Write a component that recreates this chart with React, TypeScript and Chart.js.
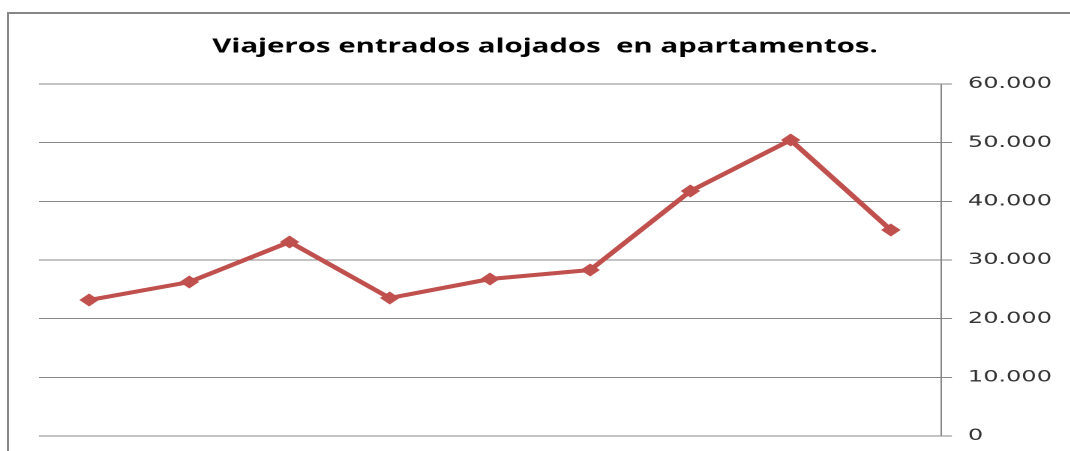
import React, { useEffect, useRef } from "react";
import { Chart, registerables } from "chart.js";

Chart.register(...registerables);

const categories = ["1", "2", "3", "4", "5", "6", "7", "8", "9"];
const travelers = [23180, 26250, 33070, 23520, 26760, 28290, 41760, 50450, 35110];
const yTicks = [0, 10000, 20000, 30000, 40000, 50000, 60000];
const yTickLabels = ["0", "10.000", "20.000", "30.000", "40.000", "50.000", "60.000"];
const titleText = "Viajeros entrados alojados  en apartamentos.";

const STRETCH = 1.5;
const W = 727;
const H = 451;

export default function App() {
  const ref = useRef<HTMLCanvasElement | null>(null);

  useEffect(() => {
    if (!ref.current) return;
    const chart = new Chart(ref.current, {
      type: "line",
      data: {
        labels: categories,
        datasets: [
          {
            data: travelers,
            borderColor: "#C0504D",
            backgroundColor: "#C0504D",
            borderWidth: 4,
            pointStyle: "rectRot",
            pointRadius: 6.5,
            pointBorderWidth: 0,
            tension: 0,
          },
        ],
      },
      options: {
        animation: false,
        responsive: false,
        devicePixelRatio: 2,
        layout: { padding: { left: 26, right: 26.3, top: 0, bottom: 15 } },
        plugins: {
          legend: { display: false },
          tooltip: { enabled: false },
          title: {
            display: true,
            text: titleText,
            color: "#000",
            font: { family: "Open Sans", weight: "bold", size: 19.6 },
            padding: { top: 35, bottom: 25.5 },
          },
        },
        scales: {
          x: { type: "category", display: false, offset: true },
          y: {
            position: "right",
            min: 0,
            max: 60000,
            afterBuildTicks: (s: any) => {
              s.ticks = yTicks.map((v) => ({ value: v }));
            },
            afterFit: (s: any) => {
              s.width = 73.4;
              s.paddingTop = 0;
              s.paddingBottom = 0;
            },
            ticks: {
              callback: (v: any) => yTickLabels[yTicks.indexOf(Number(v))],
              font: { family: "DejaVu Sans", size: 16 },
              color: "#333",
              padding: 10.7,
            },
            grid: { color: "#868686", lineWidth: 1, tickLength: 7.3 },
            border: { color: "#868686", width: 1 },
          },
        },
      },
    } as any);
    return () => chart.destroy();
  }, []);

  return (
    <div
      style={{
        position: "fixed",
        left: 0,
        top: 0,
        width: 1070,
        height: 451,
        overflow: "hidden",
        background: "#fff",
      }}
    >
      <div
        style={{
          position: "absolute",
          left: 7,
          top: 12,
          width: 2000,
          height: 1000,
          borderLeft: "2px solid #868686",
          borderTop: "2px solid #868686",
        }}
      />
      <div
        style={{
          position: "absolute",
          left: 0,
          top: 0,
          width: W,
          height: H,
          transform: `scaleX(${STRETCH})`,
          transformOrigin: "0 0",
        }}
      >
        <canvas ref={ref} width={W} height={H} style={{ width: W, height: H, display: "block" }} />
      </div>
    </div>
  );
}
